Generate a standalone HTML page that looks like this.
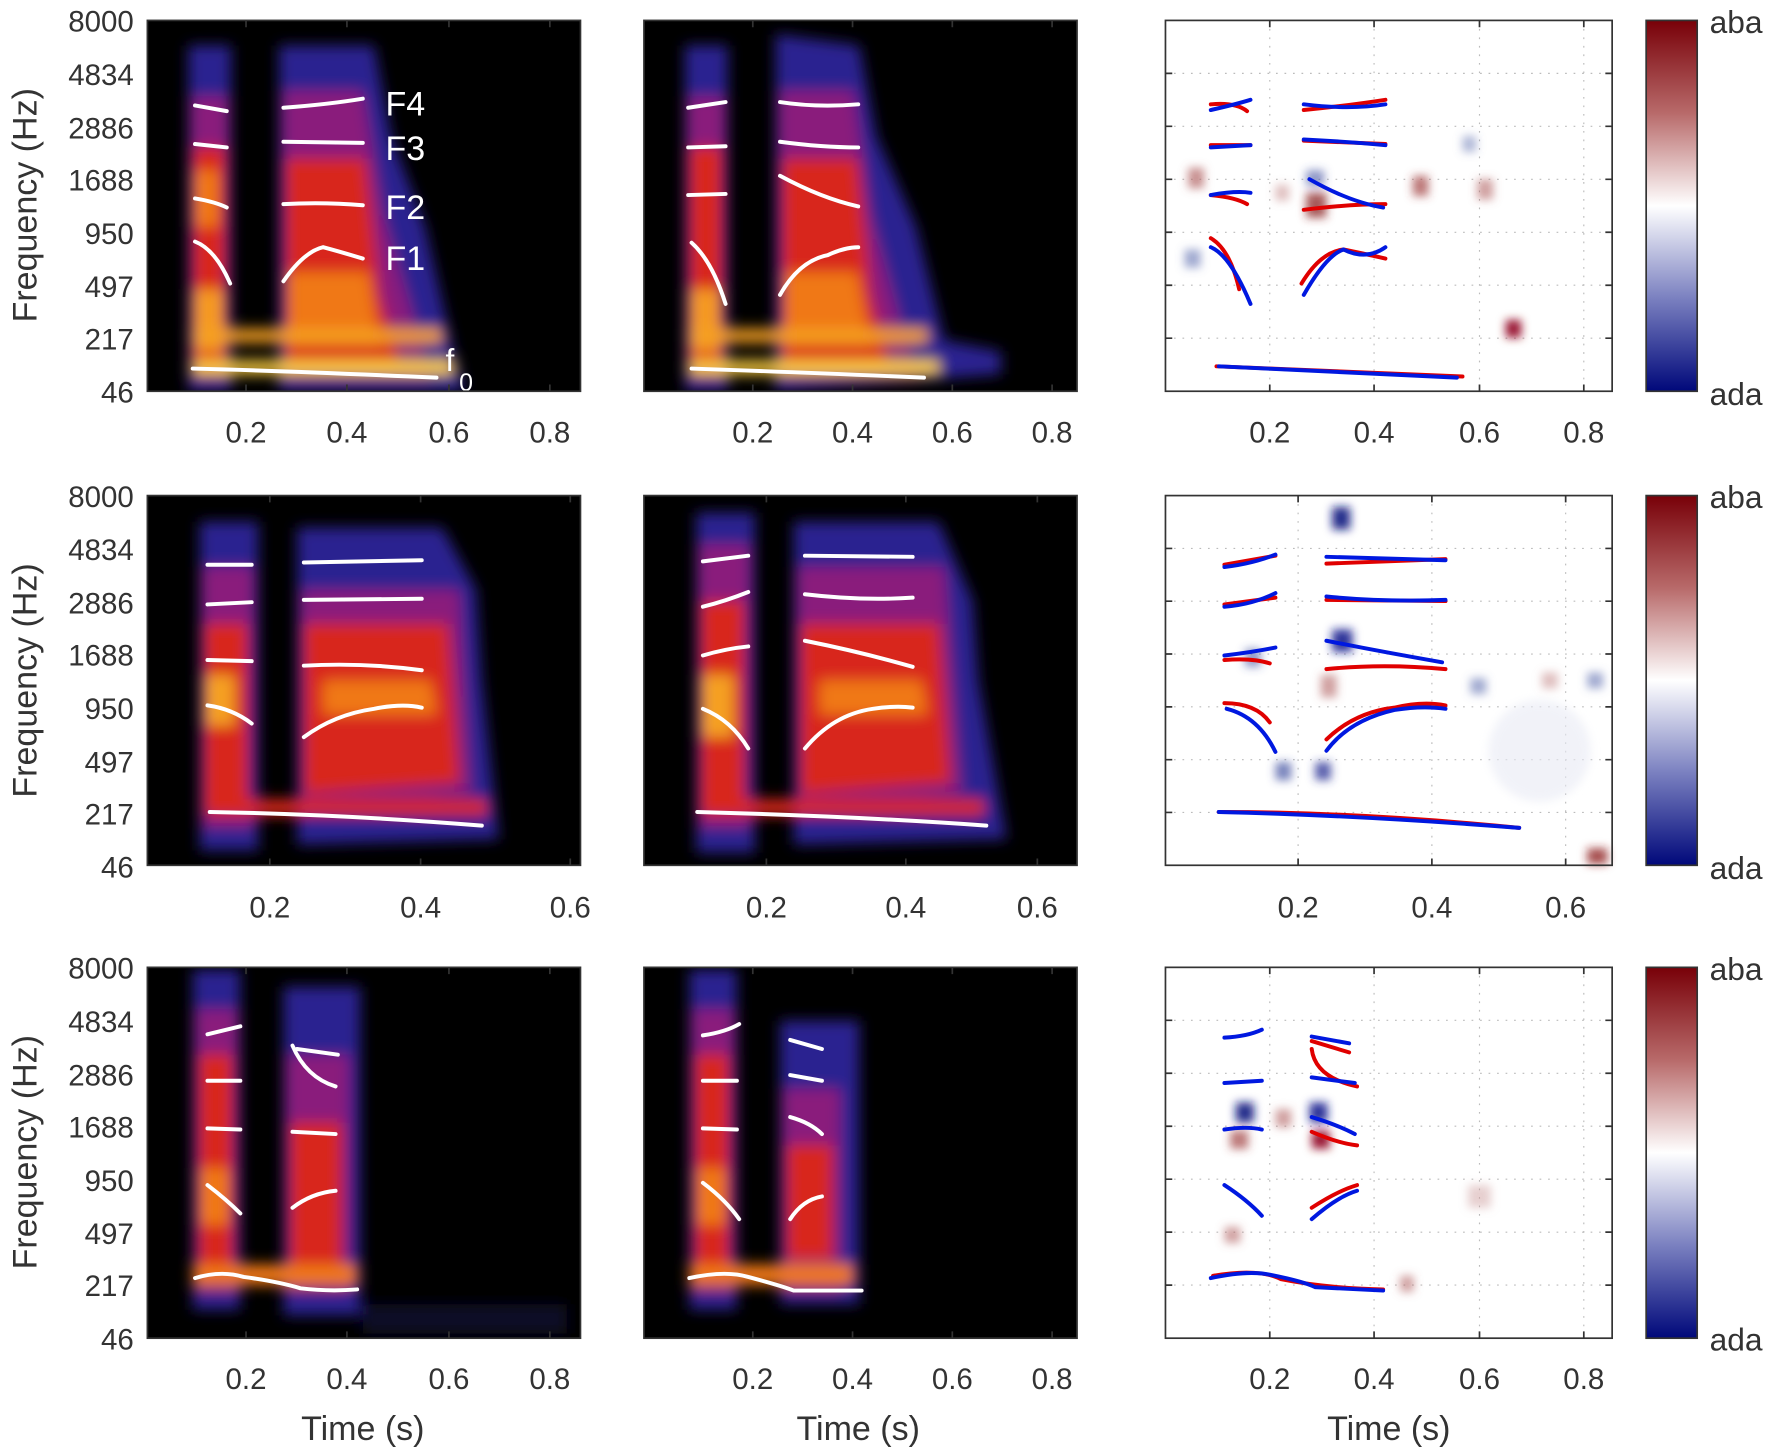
<!DOCTYPE html>
<html><head><meta charset="utf-8"><style>html,body{margin:0;padding:0;background:#fff}svg{display:block}</style></head>
<body>
<svg width="1772" height="1455" viewBox="0 0 1563 1283" preserveAspectRatio="none" xmlns="http://www.w3.org/2000/svg" font-family="Liberation Sans, sans-serif">
<defs>
<filter id="b" x="-20%" y="-20%" width="140%" height="140%"><feGaussianBlur stdDeviation="6"/></filter>
<filter id="b2" x="-50%" y="-50%" width="200%" height="200%"><feGaussianBlur stdDeviation="4"/></filter>
<linearGradient id="cb" x1="0" y1="0" x2="0" y2="1">
<stop offset="0" stop-color="#780008"/><stop offset="0.25" stop-color="#b86a6a"/><stop offset="0.5" stop-color="#ffffff"/><stop offset="0.75" stop-color="#7a80c0"/><stop offset="1" stop-color="#00087a"/></linearGradient>
</defs>
<rect width="1563" height="1283" fill="#fff"/>

<g fill="#000">
<rect x="130" y="18" width="382" height="327"/><rect x="568" y="18" width="382" height="327"/>
<rect x="130" y="437" width="382" height="326"/><rect x="568" y="437" width="382" height="326"/>
<rect x="130" y="853" width="382" height="327"/><rect x="568" y="853" width="382" height="327"/>
</g>

<clipPath id="c1"><rect x="130" y="18" width="382" height="327"/></clipPath>
<g clip-path="url(#c1)" filter="url(#b)">
<rect x="166" y="40" width="38" height="305" fill="#2c2090"/>
<rect x="169" y="85" width="32" height="250" fill="#8a1c7c"/>
<rect x="170" y="130" width="29" height="195" fill="#d8281c"/>
<rect x="171" y="150" width="22" height="50" fill="#f07818"/>
<rect x="171" y="255" width="26" height="55" fill="#f59a22"/>
<polygon points="246,40 330,40 345,120 375,200 400,310 410,345 246,345" fill="#2c2090"/>
<polygon points="250,80 320,80 338,190 370,300 380,335 250,335" fill="#8a1c7c"/>
<polygon points="252,140 322,140 335,260 352,320 252,325" fill="#d8281c"/>
<polygon points="254,240 325,240 335,305 254,305" fill="#f07818"/>
<rect x="170" y="290" width="220" height="12" fill="#f5a022"/>
<rect x="170" y="318" width="230" height="12" fill="#ffd040"/>
</g>
<g transform="translate(438,0)">
<g clip-path="url(#c1)" filter="url(#b)">
<rect x="166" y="40" width="38" height="305" fill="#2c2090"/>
<rect x="169" y="85" width="32" height="250" fill="#8a1c7c"/>
<rect x="170" y="130" width="29" height="195" fill="#d8281c"/>
<rect x="171" y="255" width="26" height="55" fill="#f59a22"/>
<polygon points="246,30 320,40 335,120 370,200 395,300 445,310 445,330 246,345" fill="#2c2090"/>
<polygon points="250,80 315,80 330,190 360,300 375,335 250,335" fill="#8a1c7c"/>
<polygon points="252,140 318,140 330,260 345,320 252,325" fill="#d8281c"/>
<polygon points="254,240 318,240 330,305 254,305" fill="#f07818"/>
<rect x="170" y="290" width="210" height="12" fill="#f5a022"/>
<rect x="170" y="318" width="220" height="12" fill="#ffd040"/>
</g></g>

<clipPath id="c2"><rect x="130" y="437" width="382" height="326"/></clipPath>
<g clip-path="url(#c2)" filter="url(#b)">
<rect x="176" y="460" width="52" height="290" fill="#2c2090"/>
<rect x="179" y="500" width="44" height="230" fill="#8a1c7c"/>
<rect x="180" y="550" width="38" height="160" fill="#d8281c"/>
<rect x="181" y="595" width="26" height="45" fill="#f5a022"/>
<polygon points="262,465 390,465 420,520 425,600 440,740 262,745" fill="#2c2090"/>
<polygon points="266,520 405,520 415,700 266,720" fill="#8a1c7c"/>
<polygon points="268,550 395,550 405,690 268,700" fill="#d8281c"/>
<polygon points="285,600 380,600 385,630 285,630" fill="#f07818"/>
<rect x="180" y="705" width="250" height="14" fill="#d8281c"/>
</g>
<g transform="translate(438,0)"><g clip-path="url(#c2)" filter="url(#b)">
<rect x="176" y="452" width="52" height="300" fill="#2c2090"/>
<rect x="179" y="480" width="44" height="250" fill="#8a1c7c"/>
<rect x="180" y="530" width="38" height="180" fill="#d8281c"/>
<rect x="181" y="595" width="28" height="55" fill="#f5a022"/>
<polygon points="262,460 390,460 420,530 425,600 450,740 262,745" fill="#2c2090"/>
<polygon points="266,500 395,500 410,700 266,720" fill="#8a1c7c"/>
<polygon points="268,550 390,550 400,690 268,700" fill="#d8281c"/>
<polygon points="285,600 375,600 380,630 285,630" fill="#f07818"/>
<rect x="180" y="705" width="250" height="14" fill="#d8281c"/>
</g></g>

<clipPath id="c3"><rect x="130" y="853" width="382" height="327"/></clipPath>
<g clip-path="url(#c3)" filter="url(#b)">
<rect x="170" y="855" width="42" height="300" fill="#2c2090"/>
<rect x="173" y="890" width="36" height="250" fill="#8a1c7c"/>
<rect x="175" y="930" width="30" height="200" fill="#d8281c"/>
<rect x="176" y="1030" width="26" height="50" fill="#f07818"/>
<rect x="250" y="870" width="68" height="290" fill="#2c2090"/>
<rect x="253" y="930" width="55" height="210" fill="#8a1c7c"/>
<rect x="256" y="990" width="45" height="130" fill="#d8281c"/>
<rect x="170" y="1115" width="145" height="18" fill="#f07818"/>
<rect x="320" y="1150" width="180" height="26" fill="#0e0828"/>
</g>
<g transform="translate(438,0)"><g clip-path="url(#c3)" filter="url(#b)">
<rect x="170" y="855" width="42" height="300" fill="#2c2090"/>
<rect x="173" y="890" width="36" height="250" fill="#8a1c7c"/>
<rect x="175" y="930" width="30" height="200" fill="#d8281c"/>
<rect x="176" y="1030" width="26" height="50" fill="#f07818"/>
<rect x="250" y="900" width="70" height="250" fill="#2c2090"/>
<rect x="253" y="960" width="50" height="180" fill="#8a1c7c"/>
<rect x="256" y="1010" width="40" height="100" fill="#d8281c"/>
<rect x="170" y="1115" width="145" height="18" fill="#f07818"/>
</g></g>

<g fill="none" stroke="#fff" stroke-width="3.5" stroke-linecap="round">
<path d="M172,93 L200,98"/><path d="M172,127 L200,130"/><path d="M172,175 Q190,178 200,183"/><path d="M172,213 Q190,220 203,250"/>
<path d="M250,95 Q290,92 320,87"/><path d="M250,125 L320,126"/><path d="M250,180 Q285,178 320,181"/><path d="M250,248 Q268,222 285,218 Q300,222 320,228"/>
<path d="M170,325 Q250,327 385,333"/>
<path d="M607,95 L640,90"/><path d="M607,130 L640,129"/><path d="M607,172 L640,171"/><path d="M610,214 Q628,230 640,268"/>
<path d="M688,90 Q720,95 757,92"/><path d="M688,125 Q725,130 757,130"/><path d="M688,155 Q725,175 757,182"/><path d="M688,260 Q705,230 730,225 Q745,218 757,218"/>
<path d="M610,325 Q700,328 815,333"/>
<path d="M183,498 L222,498"/><path d="M183,533 L222,531"/><path d="M183,582 L222,583"/><path d="M183,622 Q205,625 222,638"/>
<path d="M268,496 L372,494"/><path d="M268,529 L372,528"/><path d="M268,587 Q320,584 372,591"/><path d="M268,650 Q295,630 330,625 Q355,620 372,624"/>
<path d="M185,716 Q300,718 425,728"/>
<path d="M620,495 L660,490"/><path d="M620,535 Q640,530 660,522"/><path d="M620,578 Q640,572 660,570"/><path d="M620,625 Q645,635 660,660"/>
<path d="M710,490 L805,491"/><path d="M710,524 Q760,530 805,527"/><path d="M710,565 Q760,575 805,588"/><path d="M710,660 Q735,630 770,625 Q790,622 805,624"/>
<path d="M615,716 Q760,720 870,728"/>
<path d="M183,912 L212,905"/><path d="M183,953 L212,953"/><path d="M183,995 L212,996"/><path d="M183,1045 Q200,1058 212,1070"/>
<path d="M258,922 Q270,950 296,958"/><path d="M262,925 L298,930"/><path d="M258,998 L296,1000"/><path d="M258,1065 Q275,1052 296,1050"/>
<path d="M172,1127 Q195,1120 215,1126 Q245,1130 265,1136 Q290,1139 315,1137"/>
<path d="M620,913 Q640,910 652,903"/><path d="M620,953 L650,953"/><path d="M620,995 L650,996"/><path d="M620,1043 Q640,1058 652,1075"/>
<path d="M697,917 L725,925"/><path d="M697,948 L725,953"/><path d="M697,985 Q715,990 725,1000"/><path d="M697,1075 Q708,1058 725,1055"/>
<path d="M608,1127 Q640,1120 660,1126 Q690,1134 700,1138 L760,1138"/>
</g>
<g fill="#fff" font-size="30">
<text x="340" y="102">F4</text><text x="340" y="141">F3</text><text x="340" y="193">F2</text><text x="340" y="238">F1</text>
<text x="393" y="327" font-size="28">f</text><text x="405" y="345" font-size="22">0</text>
</g>

<rect x="1028" y="18" width="394" height="327" fill="#fff"/>
<rect x="1028" y="437" width="394" height="326" fill="#fff"/>
<rect x="1028" y="853" width="394" height="327" fill="#fff"/>
<g stroke="#bbb" stroke-width="1" stroke-dasharray="1.5,6">
<line x1="1120" y1="18" x2="1120" y2="345"/><line x1="1212" y1="18" x2="1212" y2="345"/><line x1="1305" y1="18" x2="1305" y2="345"/><line x1="1397" y1="18" x2="1397" y2="345"/>
<line x1="1028" y1="64.7" x2="1422" y2="64.7"/><line x1="1028" y1="111.4" x2="1422" y2="111.4"/><line x1="1028" y1="158.1" x2="1422" y2="158.1"/><line x1="1028" y1="204.8" x2="1422" y2="204.8"/><line x1="1028" y1="251.5" x2="1422" y2="251.5"/><line x1="1028" y1="298.2" x2="1422" y2="298.2"/>
<line x1="1145" y1="437" x2="1145" y2="763"/><line x1="1263" y1="437" x2="1263" y2="763"/><line x1="1381" y1="437" x2="1381" y2="763"/>
<line x1="1028" y1="483.6" x2="1422" y2="483.6"/><line x1="1028" y1="530.1" x2="1422" y2="530.1"/><line x1="1028" y1="576.7" x2="1422" y2="576.7"/><line x1="1028" y1="623.3" x2="1422" y2="623.3"/><line x1="1028" y1="669.9" x2="1422" y2="669.9"/><line x1="1028" y1="716.4" x2="1422" y2="716.4"/>
<line x1="1120" y1="853" x2="1120" y2="1180"/><line x1="1212" y1="853" x2="1212" y2="1180"/><line x1="1305" y1="853" x2="1305" y2="1180"/><line x1="1397" y1="853" x2="1397" y2="1180"/>
<line x1="1028" y1="899.7" x2="1422" y2="899.7"/><line x1="1028" y1="946.4" x2="1422" y2="946.4"/><line x1="1028" y1="993.1" x2="1422" y2="993.1"/><line x1="1028" y1="1039.8" x2="1422" y2="1039.8"/><line x1="1028" y1="1086.5" x2="1422" y2="1086.5"/><line x1="1028" y1="1133.2" x2="1422" y2="1133.2"/>
</g>
<g filter="url(#b2)">
<rect x="1048" y="148" width="14" height="18" fill="#b06060" opacity=".7"/>
<rect x="1152" y="170" width="18" height="22" fill="#903030" opacity=".8"/>
<rect x="1152" y="150" width="16" height="14" fill="#4050a0" opacity=".6"/>
<rect x="1246" y="155" width="14" height="18" fill="#a04040" opacity=".7"/>
<rect x="1303" y="158" width="14" height="18" fill="#b06060" opacity=".6"/>
<rect x="1328" y="282" width="14" height="16" fill="#900020" opacity=".9"/>
<rect x="1045" y="220" width="14" height="16" fill="#6070b0" opacity=".6"/>
<rect x="1290" y="120" width="12" height="14" fill="#6070b0" opacity=".5"/>
<rect x="1125" y="163" width="12" height="14" fill="#c08080" opacity=".5"/>
<rect x="1175" y="447" width="16" height="20" fill="#101880" opacity=".9"/>
<rect x="1175" y="555" width="18" height="20" fill="#182090" opacity=".9"/>
<rect x="1098" y="572" width="14" height="16" fill="#4050a0" opacity=".6"/>
<rect x="1125" y="672" width="14" height="16" fill="#4050a0" opacity=".7"/>
<rect x="1160" y="672" width="14" height="16" fill="#303a98" opacity=".8"/>
<rect x="1165" y="595" width="14" height="20" fill="#b06060" opacity=".6"/>
<rect x="1297" y="598" width="14" height="14" fill="#6070b0" opacity=".6"/>
<rect x="1400" y="593" width="14" height="14" fill="#6070b0" opacity=".6"/>
<rect x="1360" y="593" width="14" height="14" fill="#c08080" opacity=".5"/>
<rect x="1400" y="748" width="18" height="14" fill="#902020" opacity=".8"/>
<rect x="1090" y="972" width="16" height="18" fill="#101880" opacity=".9"/>
<rect x="1155" y="972" width="16" height="18" fill="#182090" opacity=".9"/>
<rect x="1085" y="997" width="16" height="16" fill="#a04040" opacity=".7"/>
<rect x="1157" y="997" width="16" height="16" fill="#900020" opacity=".9"/>
<rect x="1125" y="978" width="14" height="16" fill="#b06060" opacity=".6"/>
<rect x="1080" y="1082" width="14" height="14" fill="#b06060" opacity=".6"/>
<rect x="1235" y="1125" width="12" height="14" fill="#b06060" opacity=".6"/>
<rect x="1295" y="1045" width="20" height="20" fill="#d0a0a0" opacity=".5"/>
</g>
<circle cx="1358" cy="662" r="45" fill="#e8eaf4" opacity=".6" filter="url(#b2)"/>
<g fill="none" stroke-width="3.5" stroke-linecap="round">
<g stroke="#e00000">
<path d="M1068,92 Q1090,90 1100,98"/><path d="M1068,128 L1103,128"/><path d="M1068,172 Q1090,174 1100,180"/><path d="M1068,210 Q1085,220 1093,255"/>
<path d="M1150,97 Q1190,93 1222,88"/><path d="M1150,124 L1222,127"/><path d="M1150,185 Q1190,180 1222,180"/><path d="M1148,250 Q1165,222 1185,220 Q1200,223 1222,228"/>
<path d="M1073,323 Q1180,327 1290,332"/>
<path d="M1080,498 L1125,490"/><path d="M1080,533 L1125,527"/><path d="M1080,582 Q1105,580 1120,585"/><path d="M1080,620 Q1108,620 1120,637"/>
<path d="M1170,497 L1275,493"/><path d="M1170,529 L1275,530"/><path d="M1170,590 Q1220,585 1275,590"/><path d="M1170,652 Q1195,628 1230,624 Q1255,618 1275,622"/>
<path d="M1075,716 Q1200,716 1340,730"/>
<path d="M1157,918 L1190,928"/><path d="M1157,925 Q1160,950 1197,958"/><path d="M1157,998 Q1180,1008 1197,1010"/><path d="M1157,1065 Q1180,1050 1197,1045"/>
<path d="M1070,1125 Q1110,1118 1130,1128 Q1170,1136 1220,1137"/>
</g>
<g stroke="#0018e0">
<path d="M1068,97 Q1090,92 1103,88"/><path d="M1068,130 L1103,128"/><path d="M1068,172 Q1090,168 1103,170"/><path d="M1068,218 Q1085,225 1103,268"/>
<path d="M1150,92 Q1190,97 1222,92"/><path d="M1150,123 Q1190,125 1222,128"/><path d="M1155,158 Q1190,178 1220,183"/><path d="M1150,260 Q1170,225 1185,220 Q1205,230 1222,218"/>
<path d="M1075,323 Q1180,328 1285,333"/>
<path d="M1080,500 Q1105,497 1125,489"/><path d="M1080,535 Q1105,533 1125,523"/><path d="M1080,578 Q1105,575 1125,571"/><path d="M1082,625 Q1110,632 1125,663"/>
<path d="M1170,491 L1275,494"/><path d="M1170,526 Q1220,531 1275,529"/><path d="M1170,565 Q1220,575 1272,584"/><path d="M1170,662 Q1190,635 1230,626 Q1255,622 1275,625"/>
<path d="M1075,716 Q1200,719 1340,730"/>
<path d="M1080,915 Q1100,914 1113,908"/><path d="M1080,955 L1113,953"/><path d="M1080,996 Q1100,993 1113,996"/><path d="M1080,1045 Q1100,1058 1113,1072"/>
<path d="M1157,914 L1190,920"/><path d="M1157,950 L1195,955"/><path d="M1157,985 Q1180,992 1195,1000"/><path d="M1157,1075 Q1180,1055 1197,1050"/>
<path d="M1068,1127 Q1100,1120 1120,1124 Q1150,1130 1160,1135 L1220,1138"/>
</g></g>

<g fill="none" stroke="#333" stroke-width="1.5">
<rect x="130" y="18" width="382" height="327"/><rect x="568" y="18" width="382" height="327"/><rect x="1028" y="18" width="394" height="327"/>
<rect x="130" y="437" width="382" height="326"/><rect x="568" y="437" width="382" height="326"/><rect x="1028" y="437" width="394" height="326"/>
<rect x="130" y="853" width="382" height="327"/><rect x="568" y="853" width="382" height="327"/><rect x="1028" y="853" width="394" height="327"/>
</g>
<g stroke="#333" stroke-width="1.5">
<path d="M217,345v-6M306,345v-6M396,345v-6M485,345v-6M217,18v6M306,18v6M396,18v6M485,18v6"/>
<path d="M664,345v-6M752,345v-6M840,345v-6M928,345v-6M664,18v6M752,18v6M840,18v6M928,18v6"/>
<path d="M1120,345v-6M1212,345v-6M1305,345v-6M1397,345v-6M1120,18v6M1212,18v6M1305,18v6M1397,18v6"/>
<path d="M238,763v-6M371,763v-6M503,763v-6M238,437v6M371,437v6M503,437v6"/>
<path d="M676,763v-6M799,763v-6M915,763v-6M676,437v6M799,437v6M915,437v6"/>
<path d="M1145,763v-6M1263,763v-6M1381,763v-6M1145,437v6M1263,437v6M1381,437v6"/>
<path d="M217,1180v-6M306,1180v-6M396,1180v-6M485,1180v-6M217,853v6M306,853v6M396,853v6M485,853v6"/>
<path d="M664,1180v-6M752,1180v-6M840,1180v-6M928,1180v-6M664,853v6M752,853v6M840,853v6M928,853v6"/>
<path d="M1120,1180v-6M1212,1180v-6M1305,1180v-6M1397,1180v-6M1120,853v6M1212,853v6M1305,853v6M1397,853v6"/>
<path d="M1028,64.7h6M1028,111.4h6M1028,158.1h6M1028,204.8h6M1028,251.5h6M1028,298.2h6M1422,64.7h-6M1422,111.4h-6M1422,158.1h-6M1422,204.8h-6M1422,251.5h-6M1422,298.2h-6"/>
<path d="M1028,483.6h6M1028,530.1h6M1028,576.7h6M1028,623.3h6M1028,669.9h6M1028,716.4h6M1422,483.6h-6M1422,530.1h-6M1422,576.7h-6M1422,623.3h-6M1422,669.9h-6M1422,716.4h-6"/>
<path d="M1028,899.7h6M1028,946.4h6M1028,993.1h6M1028,1039.8h6M1028,1086.5h6M1028,1133.2h6M1422,899.7h-6M1422,946.4h-6M1422,993.1h-6M1422,1039.8h-6M1422,1086.5h-6M1422,1133.2h-6"/>
</g>

<g stroke="#333" stroke-width="1.5">
<rect x="1452" y="18" width="45" height="327" fill="url(#cb)"/>
<rect x="1452" y="437" width="45" height="326" fill="url(#cb)"/>
<rect x="1452" y="853" width="45" height="327" fill="url(#cb)"/>
</g>
<g font-size="28" fill="#333">
<text x="1508" y="29">aba</text><text x="1508" y="357">ada</text>
<text x="1508" y="448">aba</text><text x="1508" y="775">ada</text>
<text x="1508" y="864">aba</text><text x="1508" y="1191">ada</text>
</g>

<g font-size="26" fill="#333" text-anchor="end">
<g id="yl">
<text x="118" y="28">8000</text><text x="118" y="75">4834</text><text x="118" y="122">2886</text><text x="118" y="168">1688</text><text x="118" y="215">950</text><text x="118" y="262">497</text><text x="118" y="308">217</text><text x="118" y="355">46</text>
</g>
<use href="#yl" y="419"/><use href="#yl" y="835"/>
</g>
<g font-size="30" fill="#333" text-anchor="middle">
<text transform="translate(32,181) rotate(-90)">Frequency (Hz)</text>
<text transform="translate(32,600) rotate(-90)">Frequency (Hz)</text>
<text transform="translate(32,1016) rotate(-90)">Frequency (Hz)</text>
<text x="320" y="1270">Time (s)</text><text x="757" y="1270">Time (s)</text><text x="1225" y="1270">Time (s)</text>
</g>
<g font-size="26" fill="#333" text-anchor="middle">
<text x="217" y="390">0.2</text><text x="306" y="390">0.4</text><text x="396" y="390">0.6</text><text x="485" y="390">0.8</text>
<text x="664" y="390">0.2</text><text x="752" y="390">0.4</text><text x="840" y="390">0.6</text><text x="928" y="390">0.8</text>
<text x="1120" y="390">0.2</text><text x="1212" y="390">0.4</text><text x="1305" y="390">0.6</text><text x="1397" y="390">0.8</text>
<text x="238" y="809">0.2</text><text x="371" y="809">0.4</text><text x="503" y="809">0.6</text>
<text x="676" y="809">0.2</text><text x="799" y="809">0.4</text><text x="915" y="809">0.6</text>
<text x="1145" y="809">0.2</text><text x="1263" y="809">0.4</text><text x="1381" y="809">0.6</text>
<text x="217" y="1225">0.2</text><text x="306" y="1225">0.4</text><text x="396" y="1225">0.6</text><text x="485" y="1225">0.8</text>
<text x="664" y="1225">0.2</text><text x="752" y="1225">0.4</text><text x="840" y="1225">0.6</text><text x="928" y="1225">0.8</text>
<text x="1120" y="1225">0.2</text><text x="1212" y="1225">0.4</text><text x="1305" y="1225">0.6</text><text x="1397" y="1225">0.8</text>
</g>
</svg>
</body></html>
